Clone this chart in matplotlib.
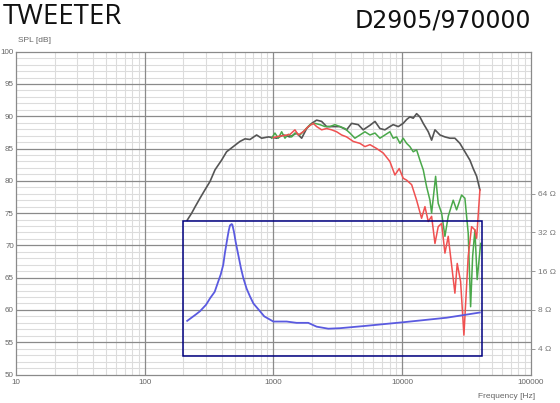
import matplotlib
matplotlib.use("Agg")
import matplotlib.pyplot as plt
from matplotlib.patches import Rectangle
from matplotlib.ticker import FixedLocator, NullLocator, NullFormatter

# on-axis response (dark grey)
black_freq = [214, 232, 247, 269, 294, 322, 352, 396, 433, 488, 550, 602, 658, 741, 811, 914,
              1000, 1062, 1194, 1346, 1517, 1660, 1815, 1985, 2170, 2373, 2594, 2920, 3289, 3712,
              4055, 4570, 4990, 5636, 6166, 6734, 7362, 8047, 8541, 9344, 10210, 10860, 11510,
              12220, 12980, 13770, 14620, 15990, 16980, 18030, 19720, 21550, 23560, 25760,
              28180, 30810, 33700, 35740, 38010, 40300]
black_spl = [73.9, 75.0, 76.0, 77.3, 78.6, 79.9, 81.7, 83.2, 84.5, 85.3, 86.1, 86.5, 86.4, 87.1,
             86.6, 86.8, 86.7, 86.6, 87.1, 86.8, 87.4, 86.6, 88.1, 88.9, 89.4, 89.2, 88.4, 88.4,
             88.4, 87.9, 88.9, 88.7, 87.9, 88.6, 89.2, 88.1, 87.9, 88.4, 88.7, 88.4, 88.9, 89.5,
             89.9, 89.7, 90.4, 89.9, 88.9, 87.6, 86.3, 87.9, 87.1, 86.8, 86.6, 86.6, 85.8, 84.5,
             83.2, 81.9, 80.7, 78.6]

# 30 deg off-axis (green)
green_freq = [970, 1029, 1092, 1160, 1231, 1306, 1387, 1472, 1610, 1762, 1927, 2105, 2302, 2517,
              2752, 3010, 3289, 3597, 3935, 4302, 4710, 5150, 5636, 6166, 6734, 7362, 8047, 8541,
              9078, 9640, 10210, 10860, 11510, 12220, 12980, 13770, 14620, 15520, 16480, 16980,
              18240, 19110, 20310, 21550, 22860, 24990, 26550, 29040, 30810, 32680, 34120, 35380,
              36840, 38370, 40830]
green_spl = [86.6, 87.4, 86.6, 87.6, 86.6, 87.2, 86.8, 87.4, 87.1, 87.9, 88.7, 88.9, 88.7, 88.4,
             88.4, 88.7, 88.4, 88.1, 87.4, 86.6, 87.1, 87.6, 87.1, 87.4, 86.6, 87.1, 87.6, 86.6,
             86.8, 85.8, 86.6, 85.8, 85.3, 84.5, 84.8, 83.2, 81.7, 79.1, 77.0, 75.0, 80.7, 76.5,
             75.0, 71.4, 74.5, 77.0, 75.5, 77.8, 77.3, 71.9, 60.5, 68.3, 72.4, 64.7, 70.3]

# 60 deg off-axis (red)
red_freq = [1000, 1100, 1200, 1350, 1472, 1563, 1708, 1868, 2043, 2170, 2373, 2594, 2837, 3102,
            3394, 3712, 4180, 4710, 5150, 5636, 6353, 7148, 8047, 8806, 9510, 10210, 10860, 11880,
            12980, 14190, 15070, 15990, 16980, 18030, 19110, 20310, 21550, 22860, 25760, 26850,
            28530, 30270, 32680, 34720, 36840, 38010, 40300]
red_spl = [86.7, 86.9, 87.0, 87.2, 87.9, 87.1, 87.6, 88.4, 88.9, 88.4, 87.9, 88.1, 87.9, 87.6,
           87.1, 86.8, 86.1, 85.8, 85.3, 85.6, 85.0, 84.3, 83.0, 80.9, 81.9, 80.4, 80.1, 79.4,
           77.0, 74.2, 76.0, 73.7, 74.5, 70.3, 72.9, 73.4, 68.8, 71.4, 62.6, 67.2, 64.4, 56.1,
           68.3, 72.9, 72.4, 71.1, 78.6]

# impedance (ohm)
imp_freq = [214, 250, 269, 300, 322, 350, 373, 390, 408, 420, 439, 450, 460, 474, 480, 494, 510,
            534, 560, 585, 620, 658, 700, 787, 850, 1000, 1268, 1517, 1867, 2171, 2673, 3290,
            4993, 10230, 22200, 40250]
imp_ohm = [6.58, 7.38, 7.82, 8.78, 9.85, 11.06, 13.3, 15.1, 17.96, 22.1, 28.8, 33.1, 36.3, 37.2,
           36.8, 32.4, 26.9, 21.4, 16.9, 14.1, 11.7, 10.2, 8.98, 7.82, 7.13, 6.5, 6.5, 6.35, 6.35,
           5.93, 5.72, 5.77, 5.99, 6.42, 6.96, 7.64]
imp_box_freq = [200, 42000]
imp_box_ohm = [3.48, 39.4]

x_ticks = [10, 100, 1000, 10000, 100000]
y_ticks = list(range(50, 101, 5))
ohm_ticks = [4, 8, 16, 32, 64]

fig = plt.figure(figsize=(5.6, 4.03), dpi=100)
ax = fig.add_axes([16 / 560, 1 - 374.5 / 403, 514.7 / 560, 322.8 / 403])

ax.set_xscale("log")
ax.set_xlim(10, 100000)
ax.set_ylim(50, 100)

# grid
for d in [10, 100, 1000, 10000]:
    for m in range(2, 10):
        ax.axvline(d * m, color="#dcdcdc", lw=0.8, zorder=0)
for d in x_ticks[1:-1]:
    ax.axvline(d, color="#8a8a8a", lw=0.9, zorder=0.5)
for v in range(51, 100):
    if v % 5:
        ax.axhline(v, color="#dcdcdc", lw=0.8, zorder=0)
    else:
        ax.axhline(v, color="#8a8a8a", lw=0.9, zorder=0.5)

ax.plot(black_freq, black_spl, color="#555555", lw=1.2, zorder=3)
ax.plot(green_freq, green_spl, color="#4aa84a", lw=1.1, zorder=4)
ax.plot(red_freq, red_spl, color="#f05050", lw=1.1, zorder=5)

for s in ax.spines.values():
    s.set_color("#8a8a8a")
    s.set_linewidth(0.9)

ax.xaxis.set_major_locator(FixedLocator(x_ticks))
ax.xaxis.set_minor_locator(NullLocator())
ax.set_xticklabels([str(t) for t in x_ticks])
ax.yaxis.set_major_locator(FixedLocator(y_ticks))
ax.set_yticklabels([str(t) for t in y_ticks])
ax.tick_params(axis="both", length=0, labelsize=5.8, labelcolor="#666666", pad=3)
ax.tick_params(axis="y", pad=1.5)
for lab in ax.get_xticklabels() + ax.get_yticklabels():
    lab.set_family("Liberation Sans")

# impedance on a log2 axis sharing the frequency axis
ax2 = ax.twinx()
ax2.set_yscale("log", base=2)
ax2.set_ylim(8 * 2 ** (-10 / 6), 8 * 2 ** (40 / 6))
ax2.plot(imp_freq, imp_ohm, color="#5a5ae0", lw=1.3, zorder=6)
ax2.add_patch(Rectangle((imp_box_freq[0], imp_box_ohm[0]),
                        imp_box_freq[1] - imp_box_freq[0], imp_box_ohm[1] - imp_box_ohm[0],
                        fill=False, edgecolor="#000080", lw=1.1, zorder=7))
ax2.yaxis.set_major_locator(FixedLocator(ohm_ticks))
ax2.yaxis.set_minor_locator(NullLocator())
ax2.yaxis.set_minor_formatter(NullFormatter())
ax2.set_yticklabels([f"{t} Ω" for t in ohm_ticks])
ax2.tick_params(axis="y", length=3, width=0.7, color="#999999", labelsize=6,
                labelcolor="#777777", pad=2)
for lab in ax2.get_yticklabels():
    lab.set_family("Liberation Sans")
for s in ax2.spines.values():
    s.set_visible(False)

fig.text(18 / 560, 1 - 40 / 403, "SPL [dB]", fontsize=6, color="#666666",
         family="Liberation Sans", va="center", ha="left")
fig.text(535 / 560, 1 - 396 / 403, "Frequency [Hz]", fontsize=6, color="#666666",
         family="Liberation Sans", va="center", ha="right")
fig.text(3 / 560, 1 - 17 / 403, "TWEETER", fontsize=20, color="#111111",
         family="Open Sans", va="center", ha="left")
fig.text(531 / 560, 1 - 20 / 403, "D2905/970000", fontsize=17, color="#111111",
         family="DejaVu Sans", va="center", ha="right")

fig.savefig("out.png", dpi=100)
